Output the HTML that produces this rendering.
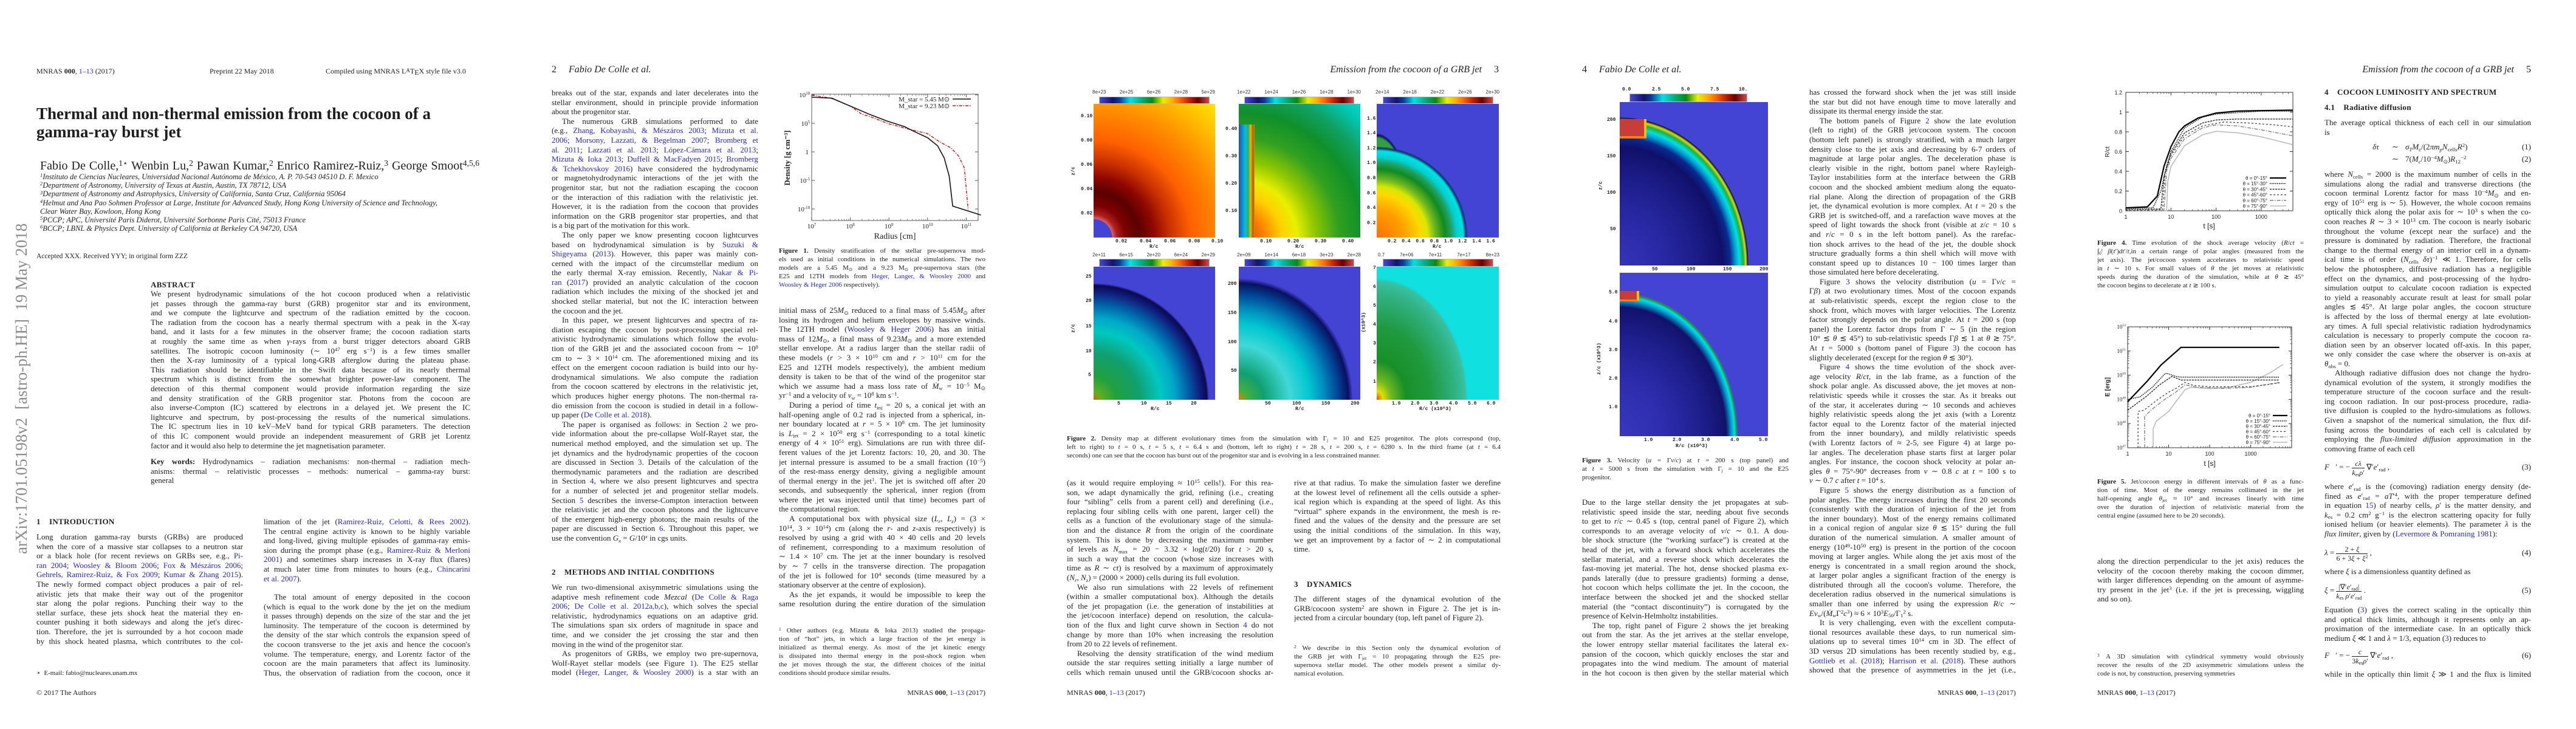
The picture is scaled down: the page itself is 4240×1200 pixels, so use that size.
<!DOCTYPE html>
<html><head><meta charset="utf-8">
<style>
html,body{margin:0;padding:0;background:#fff}
body{width:4240px;height:1200px;position:relative;overflow:hidden;font-family:"Liberation Serif",serif;color:#1e1e1e}
.page{position:absolute;top:0;width:848px;height:1200px;background:#fff;overflow:hidden}
.abs{position:absolute}
.col{position:absolute;width:340px;font-size:13px;line-height:15.6px}
.l{height:15.6px;overflow:hidden;text-align:justify;text-align-last:justify}
.e{text-align-last:left}
.i{text-indent:17px}
.cap{position:absolute;width:340px;font-size:11px;line-height:14px}
.cap .l{height:14px}
.b{color:#2828c8}
sup,sub{font-size:.68em;line-height:0;position:relative;vertical-align:baseline}
sup{top:-.45em}sub{top:.3em}
.hd{position:absolute;font-size:12px;top:110px;white-space:nowrap}
.rh{position:absolute;font-size:16px;font-style:italic;top:106px;white-space:nowrap}
.sec{position:absolute;font-weight:bold;font-size:13px;white-space:nowrap;letter-spacing:.3px}
.foot{position:absolute;font-size:12px;top:1133px;white-space:nowrap}
.panel{position:absolute;background:#4444d4;overflow:hidden}
.cb{position:absolute;border:1px solid #bbb;background:linear-gradient(to right,#4646d6 0%,#14146a 12%,#0a3a9a 18%,#00e2e6 28%,#00b080 38%,#0a8a10 48%,#e8f000 58%,#ffb000 66%,#ff6a00 73%,#c02000 82%,#6a0000 90%,#d04a4a 100%)}
.tk{position:absolute;font-family:"Liberation Mono",monospace;font-weight:bold;font-size:8px;line-height:9px;white-space:nowrap;color:#222}
.ctk{position:absolute;font-family:"Liberation Sans",sans-serif;font-size:8px;line-height:9px;white-space:nowrap;color:#333}
.ov{position:absolute;left:0;top:0}
.eq{position:absolute;font-size:13px;white-space:nowrap;line-height:16px}
.fr{display:inline-block;vertical-align:middle;text-align:center;font-size:12px;line-height:14px}
.fr span{display:block}
.fr .n{border-bottom:1px solid #222;padding:0 2px}
</style></head>
<body>

<!-- ================= PAGE 1 ================= -->
<div class="page" style="left:0">
 <div class="abs" style="left:20px;top:912px;transform-origin:0 0;transform:rotate(-90deg);font-size:27px;line-height:30px;color:#8c8c8c;white-space:nowrap;width:580px">arXiv:1701.05198v2&nbsp; [astro-ph.HE]&nbsp; 19 May 2018</div>
 <div class="hd" style="left:60px">MNRAS <b>000</b>, <span class="b">1–13</span> (2017)</div>
 <div class="hd" style="left:345px">Preprint 22 May 2018</div>
 <div class="hd" style="left:536px">Compiled using MNRAS L<span style="font-size:9px;vertical-align:2px">A</span>T<span style="vertical-align:-2px">E</span>X style file v3.0</div>
 <div class="abs" style="left:60px;top:172px;font-size:27px;line-height:30px;font-weight:bold;white-space:nowrap">Thermal and non-thermal emission from the cocoon of a<br>gamma-ray burst jet</div>
 <div class="abs" style="left:66px;top:262px;font-size:20px;line-height:22px;white-space:nowrap;word-spacing:1px">Fabio De Colle,<sup>1<span class="b">⋆</span></sup> Wenbin Lu,<sup>2</sup> Pawan Kumar,<sup>2</sup> Enrico Ramirez-Ruiz,<sup>3</sup> George Smoot<sup>4,5,6</sup></div>
 <div class="abs" style="left:66px;top:284px;font-size:12.5px;line-height:14.2px;font-style:italic;white-space:nowrap">
  <div><sup>1</sup>Instituto de Ciencias Nucleares, Universidad Nacional Autónoma de México, A. P. 70-543 04510 D. F. Mexico</div>
  <div><sup>2</sup>Department of Astronomy, University of Texas at Austin, Austin, TX 78712, USA</div>
  <div><sup>3</sup>Department of Astronomy and Astrophysics, University of California, Santa Cruz, California 95064</div>
  <div><sup>4</sup>Helmut and Ana Pao Sohmen Professor at Large, Institute for Advanced Study, Hong Kong University of Science and Technology,</div>
  <div>Clear Water Bay, Kowloon, Hong Kong</div>
  <div><sup>5</sup>PCCP; APC, Université Paris Diderot, Université Sorbonne Paris Cité, 75013 France</div>
  <div><sup>6</sup>BCCP; LBNL &amp; Physics Dept. University of California at Berkeley CA 94720, USA</div>
 </div>
 <div class="abs" style="left:60px;top:416px;font-size:11.5px;white-space:nowrap">Accepted XXX. Received YYY; in original form ZZZ</div>
 <div class="sec" style="left:248px;top:461px">ABSTRACT</div>
 <div class="col" style="left:248px;top:476px;width:526px;line-height:15.66px">
  <div class="l">We present hydrodynamic simulations of the hot cocoon produced when a relativistic</div>
  <div class="l">jet passes through the gamma-ray burst (GRB) progenitor star and its environment,</div>
  <div class="l">and we compute the lightcurve and spectrum of the radiation emitted by the cocoon.</div>
  <div class="l">The radiation from the cocoon has a nearly thermal spectrum with a peak in the X-ray</div>
  <div class="l">band, and it lasts for a few minutes in the observer frame; the cocoon radiation starts</div>
  <div class="l">at roughly the same time as when <i>γ</i>-rays from a burst trigger detectors aboard GRB</div>
  <div class="l">satellites. The isotropic cocoon luminosity (∼ 10<sup>47</sup> erg s<sup>−1</sup>) is a few times smaller</div>
  <div class="l">then the X-ray luminosity of a typical long-GRB afterglow during the plateau phase.</div>
  <div class="l">This radiation should be identifiable in the Swift data because of its nearly thermal</div>
  <div class="l">spectrum which is distinct from the somewhat brighter power-law component. The</div>
  <div class="l">detection of this thermal component would provide information regarding the size</div>
  <div class="l">and density stratification of the GRB progenitor star. Photons from the cocoon are</div>
  <div class="l">also inverse-Compton (IC) scattered by electrons in a delayed jet. We present the IC</div>
  <div class="l">lightcurve and spectrum, by post-processing the results of the numerical simulations.</div>
  <div class="l">The IC spectrum lies in 10 keV–MeV band for typical GRB parameters. The detection</div>
  <div class="l">of this IC component would provide an independent measurement of GRB jet Lorentz</div>
  <div class="l e">factor and it would also help to determine the jet magnetisation parameter.</div>
 </div>
 <div class="col" style="left:248px;top:752px;width:526px">
  <div class="l"><b>Key words:</b> Hydrodynamics – radiation mechanisms: non-thermal – radiation mech-</div>
  <div class="l">anisms: thermal – relativistic processes – methods: numerical – gamma-ray burst:</div>
  <div class="l e">general</div>
 </div>
 <div class="sec" style="left:60px;top:851px">1&nbsp;&nbsp;&nbsp; INTRODUCTION</div>
 <div class="col" style="left:60px;top:876px">
  <div class="l">Long duration gamma-ray bursts (GRBs) are produced</div>
  <div class="l">when the core of a massive star collapses to a neutron star</div>
  <div class="l">or a black hole (for recent reviews on GRBs see, e.g., <span class="b">Pi-</span></div>
  <div class="l"><span class="b">ran 2004</span>; <span class="b">Woosley &amp; Bloom 2006</span>; <span class="b">Fox &amp; Mészáros 2006</span>;</div>
  <div class="l"><span class="b">Gehrels, Ramirez-Ruiz, &amp; Fox 2009</span>; <span class="b">Kumar &amp; Zhang 2015</span>).</div>
  <div class="l">The newly formed compact object produces a pair of rel-</div>
  <div class="l">ativistic jets that make their way out of the progenitor</div>
  <div class="l">star along the polar regions. Punching their way to the</div>
  <div class="l">stellar surface, these jets shock heat the material they en-</div>
  <div class="l">counter pushing it both sideways and along the jet's direc-</div>
  <div class="l">tion. Therefore, the jet is surrounded by a hot cocoon made</div>
  <div class="l">by this shock heated plasma, which contributes to the col-</div>
 </div>
 <div class="abs" style="left:60px;top:1101px;font-size:11px;white-space:nowrap">⋆&nbsp; E-mail: fabio@nucleares.unam.mx</div>
 <div class="foot" style="left:60px">© 2017 The Authors</div>
 <div class="col" style="left:434px;top:851px">
  <div class="l">limation of the jet (<span class="b">Ramirez-Ruiz, Celotti, &amp; Rees 2002</span>).</div>
  <div class="l">The central engine activity is known to be highly variable</div>
  <div class="l">and long-lived, giving multiple episodes of gamma-ray emis-</div>
  <div class="l">sion during the prompt phase (e.g., <span class="b">Ramirez-Ruiz &amp; Merloni</span></div>
  <div class="l"><span class="b">2001</span>) and sometimes sharp increases in X-ray flux (flares)</div>
  <div class="l">at much later time from minutes to hours (e.g., <span class="b">Chincarini</span></div>
  <div class="l e"><span class="b">et al. 2007</span>).</div>
 </div>
 <div class="col" style="left:434px;top:975px">
  <div class="l i">The total amount of energy deposited in the cocoon</div>
  <div class="l">(which is equal to the work done by the jet on the medium</div>
  <div class="l">it passes through) depends on the size of the star and the jet</div>
  <div class="l">luminosity. The temperature of the cocoon is determined by</div>
  <div class="l">the density of the star which controls the expansion speed of</div>
  <div class="l">the cocoon transverse to the jet axis and hence the cocoon's</div>
  <div class="l">volume. The temperature, energy, and Lorentz factor of the</div>
  <div class="l">cocoon are the main parameters that affect its luminosity.</div>
  <div class="l">Thus, the observation of radiation from the cocoon, once it</div>
 </div>
</div>

<!-- ================= PAGE 2 ================= -->
<div class="page" style="left:848px">
 <div class="rh" style="left:60px"><span style="font-style:normal">2</span>&nbsp;&nbsp;&nbsp;&nbsp; Fabio De Colle et al.</div>
 <div class="col" style="left:60px;top:145px">
  <div class="l">breaks out of the star, expands and later decelerates into the</div>
  <div class="l">stellar environment, should in principle provide information</div>
  <div class="l e">about the progenitor star.</div>
  <div class="l i">The numerous GRB simulations performed to date</div>
  <div class="l">(e.g., <span class="b">Zhang, Kobayashi, &amp; Mészáros 2003</span>; <span class="b">Mizuta et al.</span></div>
  <div class="l"><span class="b">2006</span>; <span class="b">Morsony, Lazzati, &amp; Begelman 2007</span>; <span class="b">Bromberg et</span></div>
  <div class="l"><span class="b">al. 2011</span>; <span class="b">Lazzati et al. 2013</span>; <span class="b">López-Cámara et al. 2013</span>;</div>
  <div class="l"><span class="b">Mizuta &amp; Ioka 2013</span>; <span class="b">Duffell &amp; MacFadyen 2015</span>; <span class="b">Bromberg</span></div>
  <div class="l"><span class="b">&amp; Tchekhovskoy 2016</span>) have considered the hydrodynamic</div>
  <div class="l">or magnetohydrodynamic interactions of the jet with the</div>
  <div class="l">progenitor star, but not the radiation escaping the cocoon</div>
  <div class="l">or the interaction of this radiation with the relativistic jet.</div>
  <div class="l">However, it is the radiation from the cocoon that provides</div>
  <div class="l">information on the GRB progenitor star properties, and that</div>
  <div class="l e">is a big part of the motivation for this work.</div>
  <div class="l i">The only paper we know presenting cocoon lightcurves</div>
  <div class="l">based on hydrodynamical simulation is by <span class="b">Suzuki &amp;</span></div>
  <div class="l"><span class="b">Shigeyama</span> (<span class="b">2013</span>). However, this paper was mainly con-</div>
  <div class="l">cerned with the impact of the circumstellar medium on</div>
  <div class="l">the early thermal X-ray emission. Recently, <span class="b">Nakar &amp; Pi-</span></div>
  <div class="l"><span class="b">ran</span> (<span class="b">2017</span>) provided an analytic calculation of the cocoon</div>
  <div class="l">radiation which includes the mixing of the shocked jet and</div>
  <div class="l">shocked stellar material, but not the IC interaction between</div>
  <div class="l e">the cocoon and the jet.</div>
  <div class="l i">In this paper, we present lightcurves and spectra of ra-</div>
  <div class="l">diation escaping the cocoon by post-processing special rel-</div>
  <div class="l">ativistic hydrodynamic simulations which follow the evolu-</div>
  <div class="l">tion of the GRB jet and the associated cocoon from ∼ 10<sup>8</sup></div>
  <div class="l">cm to ∼ 3 × 10<sup>14</sup> cm. The aforementioned mixing and its</div>
  <div class="l">effect on the emergent cocoon radiation is build into our hy-</div>
  <div class="l">drodynamical simulations. We also compute the radiation</div>
  <div class="l">from the cocoon scattered by electrons in the relativistic jet,</div>
  <div class="l">which produces higher energy photons. The non-thermal ra-</div>
  <div class="l">dio emission from the cocoon is studied in detail in a follow-</div>
  <div class="l e">up paper (<span class="b">De Colle et al. 2018</span>).</div>
  <div class="l i">The paper is organised as follows: in Section <span class="b">2</span> we pro-</div>
  <div class="l">vide information about the pre-collapse Wolf-Rayet star, the</div>
  <div class="l">numerical method employed, and the simulation set up. The</div>
  <div class="l">jet dynamics and the hydrodynamic properties of the cocoon</div>
  <div class="l">are discussed in Section <span class="b">3</span>. Details of the calculation of the</div>
  <div class="l">thermodynamic parameters and the radiation are described</div>
  <div class="l">in Section <span class="b">4</span>, where we also present lightcurves and spectra</div>
  <div class="l">for a number of selected jet and progenitor stellar models.</div>
  <div class="l">Section <span class="b">5</span> describes the inverse-Compton interaction between</div>
  <div class="l">the relativistic jet and the cocoon photons and the lightcurve</div>
  <div class="l">of the emergent high-energy photons; the main results of the</div>
  <div class="l">paper are discussed in Section <span class="b">6</span>. Throughout this paper, we</div>
  <div class="l e">use the convention <i>G<sub>x</sub></i> = <i>G</i>/10<sup><i>x</i></sup> in cgs units.</div>
 </div>
 <div class="sec" style="left:60px;top:934px">2&nbsp;&nbsp;&nbsp; METHODS AND INITIAL CONDITIONS</div>
 <div class="col" style="left:60px;top:959px">
  <div class="l">We run two-dimensional axisymmetric simulations using the</div>
  <div class="l">adaptive mesh refinement code <i>Mezcal</i> (<span class="b">De Colle &amp; Raga</span></div>
  <div class="l"><span class="b">2006</span>; <span class="b">De Colle et al. 2012a,b,c</span>), which solves the special</div>
  <div class="l">relativistic, hydrodynamics equations on an adaptive grid.</div>
  <div class="l">The simulations span six orders of magnitude in space and</div>
  <div class="l">time, and we consider the jet crossing the star and then</div>
  <div class="l e">moving in the wind of the progenitor star.</div>
  <div class="l i">As progenitors of GRBs, we employ two pre-supernova,</div>
  <div class="l">Wolf-Rayet stellar models (see Figure <span class="b">1</span>). The E25 stellar</div>
  <div class="l">model (<span class="b">Heger, Langer, &amp; Woosley 2000</span>) is a star with an</div>
 </div>
 <svg class="ov" id="fig1" width="848" height="1200"></svg>
 <div class="cap" style="left:434px;top:406px">
  <div class="l"><b>Figure 1.</b> Density stratification of the stellar pre-supernova mod-</div>
  <div class="l">els used as initial conditions in the numerical simulations. The two</div>
  <div class="l">models are a 5.45 M<sub>⊙</sub> and a 9.23 M<sub>⊙</sub> pre-supernova stars (the</div>
  <div class="l">E25 and 12TH models from <span class="b">Heger, Langer, &amp; Woosley 2000</span> and</div>
  <div class="l e"><span class="b">Woosley &amp; Heger 2006</span> respectively).</div>
 </div>
 <div class="col" style="left:434px;top:503px">
  <div class="l">initial mass of 25<i>M</i><sub>⊙</sub> reduced to a final mass of 5.45<i>M</i><sub>⊙</sub> after</div>
  <div class="l">losing its hydrogen and helium envelopes by massive winds.</div>
  <div class="l">The 12TH model (<span class="b">Woosley &amp; Heger 2006</span>) has an initial</div>
  <div class="l">mass of 12<i>M</i><sub>⊙</sub>, a final mass of 9.23<i>M</i><sub>⊙</sub> and a more extended</div>
  <div class="l">stellar envelope. At a radius larger than the stellar radii of</div>
  <div class="l">these models (<i>r</i> &gt; 3 × 10<sup>10</sup> cm and <i>r</i> &gt; 10<sup>11</sup> cm for the</div>
  <div class="l">E25 and 12TH models respectively), the ambient medium</div>
  <div class="l">density is taken to be that of the wind of the progenitor star</div>
  <div class="l">which we assume had a mass loss rate of <i>Ṁ<sub>w</sub></i> = 10<sup>−5</sup> M<sub>⊙</sub></div>
  <div class="l e">yr<sup>−1</sup> and a velocity of <i>v<sub>w</sub></i> = 10<sup>8</sup> km s<sup>−1</sup>.</div>
  <div class="l i">During a period of time <i>t</i><sub>inj</sub> = 20 s, a conical jet with an</div>
  <div class="l">half-opening angle of 0.2 rad is injected from a spherical, in-</div>
  <div class="l">ner boundary located at <i>r</i> = 5 × 10<sup>8</sup> cm. The jet luminosity</div>
  <div class="l">is <i>L</i><sub>jet</sub> = 2 × 10<sup>50</sup> erg s<sup>−1</sup> (corresponding to a total kinetic</div>
  <div class="l">energy of 4 × 10<sup>51</sup> erg). Simulations are run with three dif-</div>
  <div class="l">ferent values of the jet Lorentz factors: 10, 20, and 30. The</div>
  <div class="l">jet internal pressure is assumed to be a small fraction (10<sup>−5</sup>)</div>
  <div class="l">of the rest-mass energy density, giving a negligible amount</div>
  <div class="l">of thermal energy in the jet<sup class="b">1</sup>. The jet is switched off after 20</div>
  <div class="l">seconds, and subsequently the spherical, inner region (from</div>
  <div class="l">where the jet was injected until that time) becomes part of</div>
  <div class="l e">the computational region.</div>
  <div class="l i">A computational box with physical size (<i>L<sub>r</sub></i>, <i>L<sub>z</sub></i>) = (3 ×</div>
  <div class="l">10<sup>14</sup>, 3 × 10<sup>14</sup>) cm (along the <i>r</i>- and <i>z</i>-axis respectively) is</div>
  <div class="l">resolved by using a grid with 40 × 40 cells and 20 levels</div>
  <div class="l">of refinement, corresponding to a maximum resolution of</div>
  <div class="l">∼ 1.4 × 10<sup>7</sup> cm. The jet at the inner boundary is resolved</div>
  <div class="l">by ∼ 7 cells in the transverse direction. The propagation</div>
  <div class="l">of the jet is followed for 10<sup>4</sup> seconds (time measured by a</div>
  <div class="l e">stationary observer at the centre of explosion).</div>
  <div class="l i">As the jet expands, it would be impossible to keep the</div>
  <div class="l">same resolution during the entire duration of the simulation</div>
 </div>
 <div class="cap" style="left:434px;top:1031px">
  <div class="l"><sup>1</sup> Other authors (e.g. Mizuta &amp; Ioka 2013) studied the propaga-</div>
  <div class="l">tion of “hot” jets, in which a large fraction of the jet energy is</div>
  <div class="l">initialized as thermal energy. As most of the jet kinetic energy</div>
  <div class="l">is dissipated into thermal energy in the post-shock region when</div>
  <div class="l">the jet moves through the star, the different choices of the initial</div>
  <div class="l e">conditions should produce similar results.</div>
 </div>
 <div class="foot" style="right:74px">MNRAS <b>000</b>, <span class="b">1–13</span> (2017)</div>
</div>

<!-- ================= PAGE 3 ================= -->
<div class="page" style="left:1696px">
 <div class="rh" style="right:77px">Emission from the cocoon of a GRB jet&nbsp;&nbsp;&nbsp;&nbsp; <span style="font-style:normal">3</span></div>

 <!-- colorbars top -->
 <div class="cb" style="left:113px;top:159px;width:180px;height:10px"></div>
 <div class="cb" style="left:352px;top:159px;width:179px;height:10px"></div>
 <div class="cb" style="left:580px;top:159px;width:180px;height:10px"></div>
 <div class="cb" style="left:113px;top:426px;width:180px;height:11px"></div>
 <div class="cb" style="left:352px;top:426px;width:179px;height:11px"></div>
 <div class="cb" style="left:580px;top:426px;width:180px;height:11px"></div>
 <div class="ctk" style="left:102px;top:147px;width:202px;display:flex;justify-content:space-between">
  <span>8e+23</span><span>2e+25</span><span>6e+26</span><span>2e+28</span><span>5e+29</span></div>
 <div class="ctk" style="left:340px;top:147px;width:204px;display:flex;justify-content:space-between">
  <span>1e+22</span><span>1e+24</span><span>1e+26</span><span>1e+28</span><span>1e+30</span></div>
 <div class="ctk" style="left:568px;top:147px;width:204px;display:flex;justify-content:space-between">
  <span>2e+14</span><span>2e+18</span><span>2e+22</span><span>2e+26</span><span>2e+30</span></div>
 <div class="ctk" style="left:102px;top:415px;width:202px;display:flex;justify-content:space-between">
  <span>2e+11</span><span>6e+15</span><span>2e+20</span><span>6e+24</span><span>2e+29</span></div>
 <div class="ctk" style="left:340px;top:415px;width:204px;display:flex;justify-content:space-between">
  <span>2e+09</span><span>1e+14</span><span>6e+18</span><span>3e+23</span><span>2e+28</span></div>
 <div class="ctk" style="left:572px;top:415px;width:200px;display:flex;justify-content:space-between">
  <span>0.7</span><span>7e+06</span><span>7e+11</span><span>7e+17</span><span>8e+23</span></div>

 <!-- panels top -->
 <div class="panel" style="left:104px;top:171px;width:200px;height:220px;background:radial-gradient(circle at 0% 100%,#4444d4 0,#4444d4 30px,#e06060 31px,#b02020 38px,#800000 52px,#5a0000 75px,#900800 100px,#c83000 125px,#ff6000 160px,#ff8c00 210px,#ffc000 260px,#ffe800 300px,#ffff10 340px)"></div>
 <div class="panel" style="left:343px;top:171px;width:200px;height:220px;background:radial-gradient(circle at 0% 100%,#e03000 0,#ff8000 40px,#ffd000 70px,#e8f000 95px,#90c800 125px,#30a020 165px,#10902a 205px,#10a060 240px,#00c8b0 275px,#00e0e0 310px)">
  <div class="abs" style="left:0;top:34px;width:26px;height:186px;background:linear-gradient(to right,#2050c0,#00c0e0 40%,#30b060 60%,#e0c000 75%,#e04000 90%,#80c000)"></div>
 </div>
 <div class="panel" style="left:570px;top:171px;width:201px;height:220px">
  <div class="abs" style="left:0;top:0;width:201px;height:220px;background:radial-gradient(ellipse 62px 172px at 0% 100%,#30a040 0,#30a040 95%,#101060 98%,transparent 100%)"></div>
  <div class="abs" style="left:0;top:0;width:201px;height:220px;background:radial-gradient(ellipse 150px 150px at 0% 100%,#ff7000 0,#ffa000 30%,#ffd800 48%,#d8e800 56%,#70b820 64%,#108a20 75%,#20a060 82%,#00d0d0 88%,#00e2e2 95%,#103070 98%,transparent 100%)"></div>
 </div>
 <!-- panels bottom -->
 <div class="panel" style="left:104px;top:439px;width:200px;height:219px;background:radial-gradient(ellipse 190px 192px at 0% 100%,#e06000 0,#60b020 6%,#20a040 20%,#10a070 40%,#00c8c0 58%,#00a8c8 70%,#0060a8 82%,#102080 92%,#0a0a50 98%,#4444d4 100%)"></div>
 <div class="panel" style="left:343px;top:439px;width:200px;height:219px;background:radial-gradient(ellipse 188px 200px at 0% 100%,#e08000 0,#40b040 8%,#10a070 22%,#40d8d8 45%,#00c8d0 62%,#0090c0 74%,#004a9a 86%,#0a1060 96%,#4444d4 100%)"></div>
 <div class="panel" style="left:570px;top:439px;width:201px;height:219px;background:#10e0e0">
  <div class="abs" style="left:0;top:0;width:201px;height:219px;background:radial-gradient(ellipse 150px 200px at 0% 100%,#e05000 0,#e0e000 7%,#70b820 16%,#189028 32%,#209a40 60%,#30b080 85%,#38c0a0 97%,transparent 100%)"></div>
 </div>

 <!-- tick labels -->
 <div class="tk" style="left:140px;top:393px">0.02</div><div class="tk" style="left:180px;top:393px">0.04</div><div class="tk" style="left:220px;top:393px">0.06</div><div class="tk" style="left:260px;top:393px">0.08</div><div class="tk" style="left:298px;top:393px">0.10</div>
 <div class="tk" style="left:196px;top:402px">R/c</div>
 <div class="tk" style="left:83px;top:187px">0.10</div><div class="tk" style="left:83px;top:227px">0.08</div><div class="tk" style="left:83px;top:267px">0.06</div><div class="tk" style="left:83px;top:307px">0.04</div><div class="tk" style="left:83px;top:347px">0.02</div>
 <div class="tk" style="left:64px;top:277px;transform:rotate(-90deg)">z/c</div>
 <div class="tk" style="left:378px;top:393px">0.10</div><div class="tk" style="left:423px;top:393px">0.20</div><div class="tk" style="left:468px;top:393px">0.30</div><div class="tk" style="left:513px;top:393px">0.40</div>
 <div class="tk" style="left:436px;top:402px">R/c</div>
 <div class="tk" style="left:321px;top:208px">0.40</div><div class="tk" style="left:321px;top:253px">0.30</div><div class="tk" style="left:321px;top:298px">0.20</div><div class="tk" style="left:321px;top:343px">0.10</div>
 <div class="tk" style="left:588px;top:393px;word-spacing:4px">0.2 0.4 0.6 0.8 1.0 1.2 1.4 1.6</div>
 <div class="tk" style="left:662px;top:402px">R/c</div>
 <div class="tk" style="left:554px;top:363px">0.2</div><div class="tk" style="left:554px;top:338px">0.4</div><div class="tk" style="left:554px;top:314px">0.6</div><div class="tk" style="left:554px;top:289px">0.8</div><div class="tk" style="left:554px;top:264px">1.0</div><div class="tk" style="left:554px;top:240px">1.2</div><div class="tk" style="left:554px;top:215px">1.4</div><div class="tk" style="left:554px;top:191px">1.6</div>
 <div class="tk" style="left:143px;top:660px">5</div><div class="tk" style="left:182px;top:660px">10</div><div class="tk" style="left:223px;top:660px">15</div><div class="tk" style="left:264px;top:660px">20</div>
 <div class="tk" style="left:198px;top:669px">R/c</div>
 <div class="tk" style="left:91px;top:451px">25</div><div class="tk" style="left:91px;top:491px">20</div><div class="tk" style="left:91px;top:533px">15</div><div class="tk" style="left:91px;top:574px">10</div><div class="tk" style="left:95px;top:613px">5</div>
 <div class="tk" style="left:64px;top:536px;transform:rotate(-90deg)">z/c</div>
 <div class="tk" style="left:386px;top:660px">50</div><div class="tk" style="left:431px;top:660px">100</div><div class="tk" style="left:479px;top:660px">150</div><div class="tk" style="left:527px;top:660px">200</div>
 <div class="tk" style="left:436px;top:669px">R/c</div>
 <div class="tk" style="left:325px;top:463px">200</div><div class="tk" style="left:325px;top:511px">150</div><div class="tk" style="left:325px;top:559px">100</div><div class="tk" style="left:330px;top:606px">50</div>
 <div class="tk" style="left:595px;top:660px">1.0</div><div class="tk" style="left:626px;top:660px">2.0</div><div class="tk" style="left:657px;top:660px">3.0</div><div class="tk" style="left:689px;top:660px">4.0</div><div class="tk" style="left:720px;top:660px">5.0</div><div class="tk" style="left:751px;top:660px">6.0</div>
 <div class="tk" style="left:640px;top:669px">R/c (x10^3)</div>
 <div class="tk" style="left:564px;top:437px">7</div><div class="tk" style="left:564px;top:468px">6</div><div class="tk" style="left:564px;top:499px">5</div><div class="tk" style="left:564px;top:530px">4</div><div class="tk" style="left:564px;top:561px">3</div><div class="tk" style="left:564px;top:592px">2</div><div class="tk" style="left:564px;top:624px">1</div>
 <div class="tk" style="left:532px;top:526px;transform:rotate(-90deg)">(x10^3)</div>

 <div class="cap" style="left:60px;top:715px;width:714px">
  <div class="l"><b>Figure 2.</b> Density map at different evolutionary times from the simulation with Γ<sub>j</sub> = 10 and E25 progenitor. The plots correspond (top,</div>
  <div class="l">left to right) to <i>t</i> = 0 s, <i>t</i> = 5 s, <i>t</i> = 6.4 s and (bottom, left to right) <i>t</i> = 28 s, <i>t</i> = 200 s, <i>t</i> = 6280 s. In the third frame (at <i>t</i> = 6.4</div>
  <div class="l e">seconds) one can see that the cocoon has burst out of the progenitor star and is evolving in a less constrained manner.</div>
 </div>
 <div class="col" style="left:60px;top:787px">
  <div class="l">(as it would require employing ≈ 10<sup>15</sup> cells!). For this rea-</div>
  <div class="l">son, we adapt dynamically the grid, refining (i.e., creating</div>
  <div class="l">four “sibling” cells from a parent cell) and derefining (i.e.,</div>
  <div class="l">replacing four sibling cells with one parent, larger cell) the</div>
  <div class="l">cells as a function of the evolutionary stage of the simula-</div>
  <div class="l">tion and the distance <i>R</i> from the origin of the coordinate</div>
  <div class="l">system. This is done by decreasing the maximum number</div>
  <div class="l">of levels as <i>N</i><sub>max</sub> = 20 − 3.32 × log(<i>t</i>/20) for <i>t</i> &gt; 20 s,</div>
  <div class="l">in such a way that the cocoon (whose size increases with</div>
  <div class="l">time as <i>R</i> ∼ <i>ct</i>) is resolved by a maximum of approximately</div>
  <div class="l e">(<i>N<sub>r</sub></i>, <i>N<sub>z</sub></i>) = (2000 × 2000) cells during its full evolution.</div>
  <div class="l i">We also run simulations with 22 levels of refinement</div>
  <div class="l">(within a smaller computational box). Although the details</div>
  <div class="l">of the jet propagation (i.e. the generation of instabilities at</div>
  <div class="l">the jet/cocoon interface) depend on resolution, the calcula-</div>
  <div class="l">tion of the flux and light curve shown in Section <span class="b">4</span> do not</div>
  <div class="l">change by more than 10% when increasing the resolution</div>
  <div class="l e">from 20 to 22 levels of refinement.</div>
  <div class="l i">Resolving the density stratification of the wind medium</div>
  <div class="l">outside the star requires setting initially a large number of</div>
  <div class="l">cells which remain unused until the GRB/cocoon shocks ar-</div>
 </div>
 <div class="col" style="left:434px;top:787px">
  <div class="l">rive at that radius. To make the simulation faster we derefine</div>
  <div class="l">at the lowest level of refinement all the cells outside a spher-</div>
  <div class="l">ical region which is expanding at the speed of light. As this</div>
  <div class="l">“virtual” sphere expands in the environment, the mesh is re-</div>
  <div class="l">fined and the values of the density and the pressure are set</div>
  <div class="l">using the initial conditions of the simulation. In this way,</div>
  <div class="l">we get an improvement by a factor of ∼ 2 in computational</div>
  <div class="l e">time.</div>
 </div>
 <div class="sec" style="left:434px;top:954px">3&nbsp;&nbsp;&nbsp; DYNAMICS</div>
 <div class="col" style="left:434px;top:978px">
  <div class="l">The different stages of the dynamical evolution of the</div>
  <div class="l">GRB/cocoon system<sup>2</sup> are shown in Figure <span class="b">2</span>. The jet is in-</div>
  <div class="l e">jected from a circular boundary (top, left panel of Figure <span class="b">2</span>).</div>
 </div>
 <div class="cap" style="left:434px;top:1060px;line-height:14.4px">
  <div class="l"><sup>2</sup> We describe in this Section only the dynamical evolution of</div>
  <div class="l">the GRB jet with Γ<sub>jet</sub> = 10 propagating through the E25 pre-</div>
  <div class="l">supernova stellar model. The other models present a similar dy-</div>
  <div class="l e">namical evolution.</div>
 </div>
 <div class="foot" style="left:60px">MNRAS <b>000</b>, <span class="b">1–13</span> (2017)</div>
</div>

<!-- ================= PAGE 4 ================= -->
<div class="page" style="left:2544px">
 <div class="rh" style="left:60px"><span style="font-style:normal">4</span>&nbsp;&nbsp;&nbsp;&nbsp; Fabio De Colle et al.</div>
 <div class="cb" style="left:138px;top:154px;width:192px;height:12px"></div>
 <div class="tk" style="left:126px;top:143px">0.0</div><div class="tk" style="left:175px;top:143px">2.5</div><div class="tk" style="left:223px;top:143px">5.0</div><div class="tk" style="left:271px;top:143px">7.5</div><div class="tk" style="left:318px;top:143px">10.</div>
 <div class="panel" style="left:122px;top:168px;width:244px;height:269px;background:radial-gradient(ellipse 212px 244px at 0% 100%,#3434b8 0,#2a2aa8 30%,#1c1c88 60%,#10106a 80%,#0a2a90 86%,#00a0d0 90%,#00e0e0 93%,#20b040 96%,#d8e000 98%,#0a0a40 99.5%,#4444d4 100%)">
  <div class="abs" style="left:0;top:28px;width:40px;height:28px;background:#c83c3c;border-right:4px solid #f0c000;border-bottom:4px solid #ff8000"></div>
 </div>
 <div class="panel" style="left:122px;top:449px;width:244px;height:269px;background:radial-gradient(ellipse 195px 236px at 0% 100%,#3838c0 0,#2c2cac 40%,#1e1e8c 70%,#12126c 90%,#00b0d8 95%,#00e0e0 97%,#20a040 98.5%,#4444d4 100%)">
  <div class="abs" style="left:0;top:30px;width:28px;height:14px;background:#c83c3c;border-right:4px solid #f0c000;border-bottom:3px solid #ff8000"></div>
 </div>
 <div class="tk" style="left:101px;top:193px">200</div><div class="tk" style="left:101px;top:253px">150</div><div class="tk" style="left:101px;top:313px">100</div><div class="tk" style="left:106px;top:373px">50</div>
 <div class="tk" style="left:84px;top:301px;transform:rotate(-90deg)">z/c</div>
 <div class="tk" style="left:175px;top:439px">50</div><div class="tk" style="left:232px;top:439px">100</div><div class="tk" style="left:292px;top:439px">150</div><div class="tk" style="left:352px;top:439px">200</div>
 <div class="tk" style="left:104px;top:477px">5.0</div><div class="tk" style="left:104px;top:525px">4.0</div><div class="tk" style="left:104px;top:572px">3.0</div><div class="tk" style="left:104px;top:619px">2.0</div><div class="tk" style="left:104px;top:666px">1.0</div>
 <div class="tk" style="left:62px;top:586px;transform:rotate(-90deg)">z/c (x10^3)</div>
 <div class="tk" style="left:162px;top:720px">1.0</div><div class="tk" style="left:209px;top:720px">2.0</div><div class="tk" style="left:256px;top:720px">3.0</div><div class="tk" style="left:304px;top:720px">4.0</div><div class="tk" style="left:351px;top:720px">5.0</div>
 <div class="tk" style="left:214px;top:730px">R/c (x10^3)</div>
 <div class="cap" style="left:60px;top:751px;line-height:14.5px">
  <div class="l"><b>Figure 3.</b> Velocity (<i>u</i> = Γ<i>v</i>/<i>c</i>) at <i>t</i> = 200 s (top panel) and</div>
  <div class="l">at <i>t</i> = 5000 s from the simulation with Γ<sub>j</sub> = 10 and the E25</div>
  <div class="l e">progenitor.</div>
 </div>
 <div class="col" style="left:60px;top:819px">
  <div class="l">Due to the large stellar density the jet propagates at sub-</div>
  <div class="l">relativistic speed inside the star, needing about five seconds</div>
  <div class="l">to get to <i>r</i>/<i>c</i> ∼ 0.45 s (top, central panel of Figure <span class="b">2</span>), which</div>
  <div class="l">corresponds to an average velocity of <i>v</i>/<i>c</i> ∼ 0.1. A dou-</div>
  <div class="l">ble shock structure (the “working surface”) is created at the</div>
  <div class="l">head of the jet, with a forward shock which accelerates the</div>
  <div class="l">stellar material, and a reverse shock which decelerates the</div>
  <div class="l">fast-moving jet material. The hot, dense shocked plasma ex-</div>
  <div class="l">pands laterally (due to pressure gradients) forming a dense,</div>
  <div class="l">hot cocoon which helps collimate the jet. In the cocoon, the</div>
  <div class="l">interface between the shocked jet and the shocked stellar</div>
  <div class="l">material (the “contact discontinuity”) is corrugated by the</div>
  <div class="l e">presence of Kelvin-Helmholtz instabilities.</div>
  <div class="l i">The top, right panel of Figure <span class="b">2</span> shows the jet breaking</div>
  <div class="l">out from the star. As the jet arrives at the stellar envelope,</div>
  <div class="l">the lower entropy stellar material facilitates the lateral ex-</div>
  <div class="l">pansion of the cocoon, which quickly encloses the star and</div>
  <div class="l">propagates into the wind medium. The amount of material</div>
  <div class="l">in the hot cocoon is then given by the stellar material which</div>
 </div>
 <div class="col" style="left:434px;top:144px">
  <div class="l">has crossed the forward shock when the jet was still inside</div>
  <div class="l">the star but did not have enough time to move laterally and</div>
  <div class="l e">dissipate its thermal energy inside the star.</div>
  <div class="l i">The bottom panels of Figure <span class="b">2</span> show the late evolution</div>
  <div class="l">(left to right) of the GRB jet/cocoon system. The cocoon</div>
  <div class="l">(bottom left panel) is strongly stratified, with a much larger</div>
  <div class="l">density close to the jet axis and decreasing by 6-7 orders of</div>
  <div class="l">magnitude at large polar angles. The deceleration phase is</div>
  <div class="l">clearly visible in the right, bottom panel where Rayleigh-</div>
  <div class="l">Taylor instabilities form at the interface between the GRB</div>
  <div class="l">cocoon and the shocked ambient medium along the equato-</div>
  <div class="l">rial plane. Along the direction of propagation of the GRB</div>
  <div class="l">jet, the dynamical evolution is more complex. At <i>t</i> = 20 s the</div>
  <div class="l">GRB jet is switched-off, and a rarefaction wave moves at the</div>
  <div class="l">speed of light towards the shock front (visible at <i>z</i>/<i>c</i> = 10 s</div>
  <div class="l">and <i>r</i>/<i>c</i> = 0 s in the left bottom panel). As the rarefac-</div>
  <div class="l">tion shock arrives to the head of the jet, the double shock</div>
  <div class="l">structure gradually forms a thin shell which will move with</div>
  <div class="l">constant speed up to distances 10 − 100 times larger than</div>
  <div class="l e">those simulated here before decelerating.</div>
  <div class="l i">Figure <span class="b">3</span> shows the velocity distribution (<i>u</i> = Γ<i>v</i>/<i>c</i> =</div>
  <div class="l">Γ<i>β</i>) at two evolutionary times. Most of the cocoon expands</div>
  <div class="l">at sub-relativistic speeds, except the region close to the</div>
  <div class="l">shock front, which moves with larger velocities. The Lorentz</div>
  <div class="l">factor strongly depends on the polar angle. At <i>t</i> = 200 s (top</div>
  <div class="l">panel) the Lorentz factor drops from Γ ∼ 5 (in the region</div>
  <div class="l">10° ≲ <i>θ</i> ≲ 45°) to sub-relativistic speeds Γ<i>β</i> ≲ 1 at <i>θ</i> ≳ 75°.</div>
  <div class="l">At <i>t</i> = 5000 s (bottom panel of Figure <span class="b">3</span>) the cocoon has</div>
  <div class="l e">slightly decelerated (except for the region <i>θ</i> ≲ 30°).</div>
  <div class="l i">Figure <span class="b">4</span> shows the time evolution of the shock aver-</div>
  <div class="l">age velocity <i>R</i>/<i>ct</i>, in the lab frame, as a function of the</div>
  <div class="l">shock polar angle. As discussed above, the jet moves at non-</div>
  <div class="l">relativistic speeds while it crosses the star. As it breaks out</div>
  <div class="l">of the star, it accelerates during ∼ 10 seconds and achieves</div>
  <div class="l">highly relativistic speeds along the jet axis (with a Lorentz</div>
  <div class="l">factor equal to the Lorentz factor of the material injected</div>
  <div class="l">from the inner boundary), and mildly relativistic speeds</div>
  <div class="l">(with Lorentz factors of ≈ 2-5, see Figure <span class="b">4</span>) at large po-</div>
  <div class="l">lar angles. The deceleration phase starts first at larger polar</div>
  <div class="l">angles. For instance, the cocoon shock velocity at polar an-</div>
  <div class="l">gles <i>θ</i> = 75°-90° decreases from <i>v</i> ∼ 0.8 <i>c</i> at <i>t</i> = 100 s to</div>
  <div class="l e"><i>v</i> ∼ 0.7 <i>c</i> after <i>t</i> = 10<sup>4</sup> s.</div>
  <div class="l i">Figure <span class="b">5</span> shows the energy distribution as a function of</div>
  <div class="l">polar angles. The energy increases during the first 20 seconds</div>
  <div class="l">(consistently with the duration of injection of the jet from</div>
  <div class="l">the inner boundary). Most of the energy remains collimated</div>
  <div class="l">in a conical region of angular size <i>θ</i> ≲ 15° during the full</div>
  <div class="l">duration of the numerical simulation. A smaller amount of</div>
  <div class="l">energy (10<sup>49</sup>-10<sup>50</sup> erg) is present in the portion of the cocoon</div>
  <div class="l">moving at larger angles. While along the jet axis most of the</div>
  <div class="l">energy is concentrated in a small region around the shock,</div>
  <div class="l">at larger polar angles a significant fraction of the energy is</div>
  <div class="l">distributed through all the cocoon's volume. Therefore, the</div>
  <div class="l">deceleration radius observed in the numerical simulations is</div>
  <div class="l">smaller than one inferred by using the expression <i>R</i>/<i>c</i> ∼</div>
  <div class="l e"><i>Ev<sub>w</sub></i>/(<i>Ṁ<sub>w</sub></i>Γ<sup>2</sup><i>c</i><sup>3</sup>) ≈ 6 × 10<sup>3</sup><i>E</i><sub>50</sub>/Γ<sub>1</sub><sup>2</sup> s.</div>
  <div class="l i">It is very challenging, even with the excellent computa-</div>
  <div class="l">tional resources available these days, to run numerical sim-</div>
  <div class="l">ulations up to several times 10<sup>14</sup> cm in 3D. The effect of</div>
  <div class="l">3D versus 2D simulations has been recently studied by, e.g.,</div>
  <div class="l"><span class="b">Gottlieb et al.</span> (<span class="b">2018</span>); <span class="b">Harrison et al.</span> (<span class="b">2018</span>). These authors</div>
  <div class="l">showed that the presence of asymmetries in the jet (i.e.,</div>
 </div>
 <div class="foot" style="right:74px">MNRAS <b>000</b>, <span class="b">1–13</span> (2017)</div>
</div>

<!-- ================= PAGE 5 ================= -->
<div class="page" style="left:3392px">
 <div class="rh" style="right:74px">Emission from the cocoon of a GRB jet&nbsp;&nbsp;&nbsp;&nbsp; <span style="font-style:normal">5</span></div>
 <svg class="ov" id="fig45" width="848" height="1200"></svg>
 <div class="cap" style="left:60px;top:393px;line-height:14.2px">
  <div class="l"><b>Figure 4.</b> Time evolution of the shock average velocity (<i>R</i>/<i>ct</i> =</div>
  <div class="l">∫<sub>0</sub><sup>t</sup> <i>β</i>(<i>t</i>′)<i>dt</i>′/<i>t</i>,in a certain range of polar angles (measured from the</div>
  <div class="l">jet axis). The jet/cocoon system accelerates to relativistic speed</div>
  <div class="l">in <i>t</i> ∼ 10 s. For small values of <i>θ</i> the jet moves at relativistic</div>
  <div class="l">speeds during the duration of the simulation, while at <i>θ</i> ≳ 45°</div>
  <div class="l e">the cocoon begins to decelerate at <i>t</i> ≳ 100 s.</div>
 </div>
 <div class="cap" style="left:60px;top:786px">
  <div class="l"><b>Figure 5.</b> Jet/cocoon energy in different intervals of <i>θ</i> as a func-</div>
  <div class="l">tion of time. Most of the energy remains collimated in the jet</div>
  <div class="l">half-opening angle <i>θ</i><sub>jet</sub> ≈ 10° and increases linearly with time</div>
  <div class="l">over the duration of injection of relativistic material from the</div>
  <div class="l e">central engine (assumed here to be 20 seconds).</div>
 </div>
 <div class="col" style="left:60px;top:916px">
  <div class="l">along the direction perpendicular to the jet axis) reduces the</div>
  <div class="l">velocity of the cocoon thereby making the cocoon dimmer,</div>
  <div class="l">with larger differences depending on the amount of asymme-</div>
  <div class="l">try present in the jet<sup class="b">3</sup> (i.e. if the jet is precessing, wiggling</div>
  <div class="l e">and so on).</div>
 </div>
 <div class="cap" style="left:60px;top:1074px;line-height:14.5px">
  <div class="l"><sup>3</sup> A 3D simulation with cylindrical symmetry would obviously</div>
  <div class="l">recover the results of the 2D axisymmetric simulations unless the</div>
  <div class="l e">code is not, by construction, preserving symmetries</div>
 </div>
 <div class="foot" style="left:60px">MNRAS <b>000</b>, <span class="b">1–13</span> (2017)</div>

 <div class="sec" style="left:434px;top:144px">4&nbsp;&nbsp;&nbsp; COCOON LUMINOSITY AND SPECTRUM</div>
 <div class="sec" style="left:434px;top:169px">4.1&nbsp;&nbsp;&nbsp; Radiative diffusion</div>
 <div class="col" style="left:434px;top:194px">
  <div class="l">The average optical thickness of each cell in our simulation</div>
  <div class="l e">is</div>
 </div>
 <div class="eq" style="left:513px;top:234px"><i>δτ</i></div>
 <div class="eq" style="left:545px;top:234px">∼</div>
 <div class="eq" style="left:567px;top:234px"><i>σ<sub>T</sub>M<sub>c</sub></i>/(2<i>πm<sub>p</sub>N</i><sub>cells</sub><i>R</i><sup>2</sup>)</div>
 <div class="eq" style="right:74px;top:234px">(1)</div>
 <div class="eq" style="left:545px;top:254px">∼</div>
 <div class="eq" style="left:567px;top:254px">7(<i>M<sub>c</sub></i>/10<sup>−4</sup><i>M</i><sub>⊙</sub>)<i>R</i><sub>12</sub><sup>−2</sup></div>
 <div class="eq" style="right:74px;top:254px">(2)</div>
 <div class="col" style="left:434px;top:279px">
  <div class="l">where <i>N</i><sub>cells</sub> = 2000 is the maximum number of cells in the</div>
  <div class="l">simulations along the radial and transverse directions (the</div>
  <div class="l">cocoon terminal Lorentz factor for mass 10<sup>−4</sup><i>M</i><sub>⊙</sub> and en-</div>
  <div class="l">ergy of 10<sup>51</sup> erg is ∼ 5). However, the whole cocoon remains</div>
  <div class="l">optically thick along the polar axis for ∼ 10<sup>3</sup> s when the co-</div>
  <div class="l">coon reaches <i>R</i> ∼ 3 × 10<sup>13</sup> cm. The cocoon is nearly isobaric</div>
  <div class="l">throughout the volume (except near the surface) and the</div>
  <div class="l">pressure is dominated by radiation. Therefore, the fractional</div>
  <div class="l">change to the thermal energy of an interior cell in a dynam-</div>
  <div class="l">ical time is of order (<i>N</i><sub>cells</sub> <i>δτ</i>)<sup>−1</sup> ≪ 1. Therefore, for cells</div>
  <div class="l">below the photosphere, diffusive radiation has a negligible</div>
  <div class="l">effect on the dynamics, and post-processing of the hydro-</div>
  <div class="l">simulation output to calculate cocoon radiation is expected</div>
  <div class="l">to yield a reasonably accurate result at least for small polar</div>
  <div class="l">angles ≲ 45°. At large polar angles, the cocoon structure</div>
  <div class="l">is affected by the loss of thermal energy at late evolution-</div>
  <div class="l">ary times. A full special relativistic radiation hydrodynamics</div>
  <div class="l">calculation is necessary to properly compute the cocoon ra-</div>
  <div class="l">diation seen by an observer located off-axis. In this paper,</div>
  <div class="l">we only consider the case where the observer is on-axis at</div>
  <div class="l e"><i>θ</i><sub>obs</sub> = 0.</div>
 </div>
 <div class="col" style="left:434px;top:606px">
  <div class="l i">Although radiative diffusion does not change the hydro-</div>
  <div class="l">dynamical evolution of the system, it strongly modifies the</div>
  <div class="l">temperature structure of the cocoon surface and the result-</div>
  <div class="l">ing cocoon radiation. In our post-process procedure, radia-</div>
  <div class="l">tive diffusion is coupled to the hydro-simulations as follows.</div>
  <div class="l">Given a snapshot of the numerical simulation, the flux dif-</div>
  <div class="l">fusing across the boundaries of each cell is calculated by</div>
  <div class="l">employing the <i>flux-limited diffusion</i> approximation in the</div>
  <div class="l e">comoving frame of each cell</div>
 </div>
 <div class="eq" style="left:434px;top:755px;line-height:28px"><i>F⃗</i>′ = − <span class="fr"><span class="n"><i>cλ</i></span><span><i>k</i><sub>es</sub><i>ρ</i>′</span></span> ∇′<i>e</i>′<sub>rad</sub> ,</div>
 <div class="eq" style="right:74px;top:761px">(3)</div>
 <div class="col" style="left:434px;top:793px">
  <div class="l">where <i>e</i>′<sub>rad</sub> is the (comoving) radiation energy density (de-</div>
  <div class="l">fined as <i>e</i>′<sub>rad</sub> = <i>aT</i>′<sup>4</sup>, with the proper temperature defined</div>
  <div class="l">in equation <span class="b">15</span>) of nearby cells, <i>ρ</i>′ is the matter density, and</div>
  <div class="l"><i>k</i><sub>es</sub> = 0.2 cm<sup>2</sup> g<sup>−1</sup> is the electron scattering opacity for fully</div>
  <div class="l">ionised helium (or heavier elements). The parameter <i>λ</i> is the</div>
  <div class="l e"><i>flux limiter</i>, given by (<span class="b">Levermore &amp; Pomraning 1981</span>):</div>
 </div>
 <div class="eq" style="left:434px;top:896px;line-height:28px"><i>λ</i> = <span class="fr"><span class="n">2 + <i>ξ</i></span><span>6 + 3<i>ξ</i> + <i>ξ</i><sup>2</sup></span></span> ,</div>
 <div class="eq" style="right:74px;top:902px">(4)</div>
 <div class="col" style="left:434px;top:933px">
  <div class="l e">where <i>ξ</i> is a dimensionless quantity defined as</div>
 </div>
 <div class="eq" style="left:434px;top:958px;line-height:28px"><i>ξ</i> = <span class="fr"><span class="n">|∇′<i>e</i>′<sub>rad</sub>|</span><span><i>k</i><sub>es</sub> <i>ρ</i>′<i>e</i>′<sub>rad</sub></span></span> .</div>
 <div class="eq" style="right:74px;top:964px">(5)</div>
 <div class="col" style="left:434px;top:996px">
  <div class="l">Equation (<span class="b">3</span>) gives the correct scaling in the optically thin</div>
  <div class="l">and optical thick limits, although it represents only an ap-</div>
  <div class="l">proximation of the intermediate case. In an optically thick</div>
  <div class="l e">medium <i>ξ</i> ≪ 1 and <i>λ</i> = 1/3, equation (<span class="b">3</span>) reduces to</div>
 </div>
 <div class="eq" style="left:434px;top:1065px;line-height:28px"><i>F⃗</i>′ = − <span class="fr"><span class="n"><i>c</i></span><span>3<i>k</i><sub>es</sub><i>ρ</i>′</span></span> ∇′<i>e</i>′<sub>rad</sub> ,</div>
 <div class="eq" style="right:74px;top:1071px">(6)</div>
 <div class="col" style="left:434px;top:1102px">
  <div class="l">while in the optically thin limit <i>ξ</i> ≫ 1 and the flux is limited</div>
 </div>
</div>

<script>
// ---------- Figure 1 data: log10 radius [cm] vs log10 density [g cm^-3] ----------
const fig1LogR_E25 = [7.0, 7.52, 7.95, 8.5, 8.95, 9.4, 9.66, 10.0, 10.26, 10.43, 10.56, 10.65, 11.38];
const fig1LogRho_E25 = [9.57, 9.4, 8.16, 6.56, 5.39, 4.43, 3.54, 2.48, 1.06, -1.06, -4.26, -9.5, -11.06];
const fig1LogR_12TH = [7.0, 7.5, 8.0, 8.3, 8.5, 9.0, 9.5, 10.0, 10.3, 10.6, 10.8, 10.95, 11.05];
const fig1LogRho_12TH = [9.92, 9.4, 8.0, 6.6, 6.2, 4.9, 4.0, 3.2, 1.8, 0.7, -0.7, -2.8, -10.2];
const fig1XTickExp = [7, 8, 9, 10, 11];
const fig1YTickExp = [10, 5, 0, -5, -10];

// ---------- Figure 4 data: t [s] vs R/ct ----------
const fig4T_0_15 = [1, 3, 5, 7, 10, 15, 20, 40, 100, 300, 1000, 5000];
const fig4V_0_15 = [0.03, 0.04, 0.15, 0.45, 0.65, 0.8, 0.86, 0.94, 0.99, 1.01, 1.015, 1.02];
const fig4T_15_30 = [1, 4, 6, 8, 10, 20, 50, 100, 1000, 5000];
const fig4V_15_30 = [0.02, 0.03, 0.2, 0.45, 0.6, 0.84, 0.95, 0.98, 1.01, 1.01];
const fig4T_30_45 = [1, 6, 7, 10, 20, 50, 100, 300, 1000, 5000];
const fig4V_30_45 = [0.01, 0.02, 0.35, 0.58, 0.79, 0.89, 0.92, 0.93, 0.93, 0.93];
const fig4T_45_60 = [1, 6.5, 7.5, 10, 20, 50, 150, 500, 2000, 5000];
const fig4V_45_60 = [0.0, 0.01, 0.4, 0.56, 0.76, 0.86, 0.9, 0.89, 0.87, 0.85];
const fig4T_60_75 = [1, 7, 8, 10, 20, 50, 100, 300, 1000, 5000];
const fig4V_60_75 = [0.0, 0.0, 0.4, 0.53, 0.73, 0.84, 0.87, 0.86, 0.82, 0.76];
const fig4T_75_90 = [1, 8, 8.5, 10, 20, 50, 100, 300, 1000, 5000];
const fig4V_75_90 = [0.0, 0.0, 0.3, 0.45, 0.66, 0.77, 0.805, 0.79, 0.75, 0.67];
const fig4YTicks = [0, 0.2, 0.4, 0.6, 0.8, 1, 1.2];
const fig4XTicks = [1, 10, 100, 1000];

// ---------- Figure 5 data: t [s] vs log10 E [erg] ----------
const fig5T_0_15 = [1, 3, 6.5, 20, 5000];
const fig5E_0_15 = [48.9, 49.75, 50.42, 51.15, 51.15];
const fig5T_15_30 = [1, 2, 4, 8, 9, 15, 20, 5000];
const fig5E_15_30 = [49.0, 49.1, 49.5, 50.05, 50.08, 49.95, 49.92, 49.92];
const fig5T_30_45 = [1, 3, 6, 12, 20, 5000];
const fig5E_30_45 = [48.55, 49.15, 49.6, 49.95, 49.8, 49.8];
const fig5T_45_60 = [1.8, 1.8, 2.5, 5, 10, 15, 25, 40, 100, 1000, 5000];
const fig5E_45_60 = [47.0, 48.5, 48.55, 48.95, 49.3, 49.45, 49.7, 49.58, 49.52, 49.52, 49.68];
const fig5T_60_75 = [2.6, 2.6, 4, 8, 15, 25, 50, 200, 1000, 5000];
const fig5E_60_75 = [47.0, 48.3, 48.6, 49.0, 49.3, 49.6, 49.5, 49.45, 49.5, 49.7];
const fig5T_75_90 = [4.2, 4.2, 5, 10, 15, 25, 35, 100, 300, 1000, 3000, 6200];
const fig5E_75_90 = [47.0, 47.8, 48.1, 48.5, 48.9, 49.4, 49.5, 49.45, 49.5, 49.7, 50.1, 50.45];
const fig5YTickExp = [47, 48, 49, 50, 51, 52];
const fig5XTicks = [1, 10, 100, 1000];
const legendLabels = ['θ =  0°-15°', 'θ = 15°-30°', 'θ = 30°-45°', 'θ = 45°-60°', 'θ = 60°-75°', 'θ = 75°-90°'];

const NS = 'http://www.w3.org/2000/svg';
function mk(tag, parent, attrs) {
  const e = document.createElementNS(NS, tag);
  for (const k in attrs) e.setAttribute(k, attrs[k]);
  parent.appendChild(e);
  return e;
}
function pathD(xs, ys, fx, fy) {
  return xs.map((x, i) => (i ? 'L' : 'M') + fx(x).toFixed(1) + ' ' + fy(ys[i]).toFixed(1)).join(' ');
}
function powLabel(parent, x, y, exp, anchor, size) {
  const t = mk('text', parent, {x: x, y: y, 'text-anchor': anchor, 'font-size': size, 'font-family': 'Liberation Serif, serif', fill: '#222'});
  t.textContent = '10';
  const s = mk('tspan', t, {dy: -4, 'font-size': size * 0.62});
  s.textContent = String(exp);
  return t;
}

// ===== Figure 1 =====
(function () {
  const svg = document.getElementById('fig1');
  const X0 = 488, X1 = 762, Y0 = 155, Y1 = 363;
  const fx = v => X0 + (v - 7) * 63.6;
  const fy = v => 156 + (10 - v) * 9.4;
  const g = mk('g', svg, {});
  
  
  const frame = mk('rect', g, {x: X0, y: Y0, width: X1 - X0, height: Y1 - Y0, fill: 'none', stroke: '#777', 'stroke-width': 1.2});
  
  
  fig1XTickExp.forEach(e => {
    const x = fx(e);
    mk('line', g, {x1: x, y1: Y1, x2: x, y2: Y1 - 5, stroke: '#555'});
    mk('line', g, {x1: x, y1: Y0, x2: x, y2: Y0 + 5, stroke: '#555'});
    for (let m = 2; m < 10; m++) {
      const xm = fx(e + Math.log10(m));
      if (xm < X1) { mk('line', g, {x1: xm, y1: Y1, x2: xm, y2: Y1 - 2.5, stroke: '#777'}); mk('line', g, {x1: xm, y1: Y0, x2: xm, y2: Y0 + 2.5, stroke: '#777'}); }
    }
    const lab = powLabel(g, x, Y1 + 13, e, 'middle', 11);
    
    
  });
  fig1YTickExp.forEach(e => {
    const y = fy(e);
    mk('line', g, {x1: X0, y1: y, x2: X0 + 5, y2: y, stroke: '#555'});
    mk('line', g, {x1: X1, y1: y, x2: X1 - 5, y2: y, stroke: '#555'});
    let lab;
    if (e === 0) {
      lab = mk('text', g, {x: X0 - 5, y: y + 4, 'text-anchor': 'end', 'font-size': 11, 'font-family': 'Liberation Serif, serif', fill: '#222'});
      lab.textContent = '1';
    } else {
      lab = powLabel(g, X0 - 3, y + 4, e, 'end', 11);
    }
    
    
  });
  const xt = mk('text', g, {x: (X0 + X1) / 2, y: 393, 'text-anchor': 'middle', 'font-size': 14, 'font-family': 'Liberation Serif, serif', fill: '#222'});
  xt.textContent = 'Radius [cm]';
  
  
  const yt = mk('text', g, {x: 0, y: 0, 'text-anchor': 'middle', 'font-size': 13, 'font-weight': 'bold', 'font-family': 'Liberation Serif, serif', fill: '#222', transform: 'translate(452,260) rotate(-90)'});
  yt.textContent = 'Density [g cm⁻³]';
  
  
  const red = mk('path', g, {d: pathD(fig1LogR_12TH, fig1LogRho_12TH, fx, fy), fill: 'none', stroke: '#d01010', 'stroke-width': 1.4, 'stroke-dasharray': '5 2 1.5 2'});
  
  
  const blk = mk('path', g, {d: pathD(fig1LogR_E25, fig1LogRho_E25, fx, fy), fill: 'none', stroke: '#111', 'stroke-width': 1.6});
  
  
  const l1 = mk('text', g, {x: 715, y: 167, 'text-anchor': 'end', 'font-size': 11, 'font-family': 'Liberation Serif, serif', fill: '#222'});
  l1.textContent = 'M_star = 5.45 M⊙';
  
  
  mk('line', g, {x1: 720, y1: 163, x2: 750, y2: 163, stroke: '#111', 'stroke-width': 1.6});
  const l2 = mk('text', g, {x: 715, y: 178, 'text-anchor': 'end', 'font-size': 11, 'font-family': 'Liberation Serif, serif', fill: '#222'});
  l2.textContent = 'M_star = 9.23 M⊙';
  
  
  mk('line', g, {x1: 720, y1: 174, x2: 750, y2: 174, stroke: '#d01010', 'stroke-width': 1.4, 'stroke-dasharray': '5 2 1.5 2'});
})();

const seriesStyles = [
  {stroke: '#000', w: 2.2, dash: ''},
  {stroke: '#111', w: 1.6, dash: '1.5 1.5'},
  {stroke: '#222', w: 1.4, dash: '3 1.5'},
  {stroke: '#444', w: 1.3, dash: '3 3'},
  {stroke: '#777', w: 1.3, dash: '6 2 1.5 2'},
  {stroke: '#bbb', w: 1.6, dash: ''}
];

// ===== Figure 4 =====
(function () {
  const svg = document.getElementById('fig45');
  const X0 = 107, X1 = 382, Y0 = 152, Y1 = 347;
  const fx = t => X0 + Math.log10(t) * 74.3;
  const fy = v => Y1 - v * 162.5;
  const g = mk('g', svg, {});
  
  
  mk('rect', g, {x: X0, y: Y0, width: X1 - X0, height: Y1 - Y0, fill: 'none', stroke: '#333', 'stroke-width': 1});
  fig4YTicks.forEach(v => {
    const y = fy(v);
    mk('line', g, {x1: X0, y1: y, x2: X0 + 5, y2: y, stroke: '#333'});
    mk('line', g, {x1: X1, y1: y, x2: X1 - 5, y2: y, stroke: '#333'});
    const t = mk('text', g, {x: X0 - 6, y: y + 3.5, 'text-anchor': 'end', 'font-size': 9, 'font-family': 'Liberation Sans, sans-serif', fill: '#222'});
    t.textContent = String(v);
    
    
  });
  fig4XTicks.forEach(tv => {
    const x = fx(tv);
    mk('line', g, {x1: x, y1: Y1, x2: x, y2: Y1 - 5, stroke: '#333'});
    mk('line', g, {x1: x, y1: Y0, x2: x, y2: Y0 + 5, stroke: '#333'});
    for (let m = 2; m < 10; m++) {
      const xm = fx(tv * m);
      if (xm < X1) { mk('line', g, {x1: xm, y1: Y1, x2: xm, y2: Y1 - 2.5, stroke: '#555'}); mk('line', g, {x1: xm, y1: Y0, x2: xm, y2: Y0 + 2.5, stroke: '#555'}); }
    }
    const t = mk('text', g, {x: x, y: Y1 + 13, 'text-anchor': 'middle', 'font-size': 9, 'font-family': 'Liberation Sans, sans-serif', fill: '#222'});
    t.textContent = String(tv);
    
    
  });
  const xt = mk('text', g, {x: 244, y: 376, 'text-anchor': 'middle', 'font-size': 12, 'font-family': 'Liberation Sans, sans-serif', fill: '#222'});
  xt.textContent = 't [s]';
  
  
  const yt = mk('text', g, {x: 0, y: 0, 'text-anchor': 'middle', 'font-size': 10, 'font-family': 'Liberation Sans, sans-serif', fill: '#222', transform: 'translate(80,250) rotate(-90)'});
  yt.textContent = 'R/ct';
  
  
  const ts = [fig4T_0_15, fig4T_15_30, fig4T_30_45, fig4T_45_60, fig4T_60_75, fig4T_75_90];
  const vs = [fig4V_0_15, fig4V_15_30, fig4V_30_45, fig4V_45_60, fig4V_60_75, fig4V_75_90];
  for (let i = 5; i >= 0; i--) {
    const s = seriesStyles[i];
    const p = mk('path', g, {d: pathD(ts[i], vs[i], fx, fy), fill: 'none', stroke: s.stroke, 'stroke-width': s.w, 'stroke-dasharray': s.dash});
    
    
  }
  legendLabels.forEach((lab, i) => {
    const y = 293 + i * 9.2;
    const t = mk('text', g, {x: 340, y: y + 3, 'text-anchor': 'end', 'font-size': 8, 'font-family': 'Liberation Sans, sans-serif', fill: '#222'});
    t.textContent = lab;
    
    
    const s = seriesStyles[i];
    mk('line', g, {x1: 344, y1: y, x2: 371, y2: y, stroke: s.stroke, 'stroke-width': s.w, 'stroke-dasharray': s.dash});
  });
})();

// ===== Figure 5 =====
(function () {
  const svg = document.getElementById('fig45');
  const X0 = 110, X1 = 380, Y0 = 538, Y1 = 737;
  const fx = t => X0 + Math.log10(t) * 67.5;
  const fy = v => Y1 - (v - 47) * 39.8;
  const g = mk('g', svg, {});
  
  
  mk('rect', g, {x: X0, y: Y0, width: X1 - X0, height: Y1 - Y0, fill: 'none', stroke: '#333', 'stroke-width': 1});
  fig5YTickExp.forEach(e => {
    const y = fy(e);
    mk('line', g, {x1: X0, y1: y, x2: X0 + 5, y2: y, stroke: '#333'});
    mk('line', g, {x1: X1, y1: y, x2: X1 - 5, y2: y, stroke: '#333'});
    for (let m = 2; m < 10; m++) {
      const ym = fy(e + Math.log10(m));
      if (ym > Y0) { mk('line', g, {x1: X0, y1: ym, x2: X0 + 2.5, y2: ym, stroke: '#555'}); mk('line', g, {x1: X1, y1: ym, x2: X1 - 2.5, y2: ym, stroke: '#555'}); }
    }
    const t = powLabel(g, X0 - 3, y + 3, e, 'end', 9);
    
    
  });
  fig5XTicks.forEach(tv => {
    const x = fx(tv);
    mk('line', g, {x1: x, y1: Y1, x2: x, y2: Y1 - 5, stroke: '#333'});
    mk('line', g, {x1: x, y1: Y0, x2: x, y2: Y0 + 5, stroke: '#333'});
    for (let m = 2; m < 10; m++) {
      const xm = fx(tv * m);
      if (xm < X1) { mk('line', g, {x1: xm, y1: Y1, x2: xm, y2: Y1 - 2.5, stroke: '#555'}); mk('line', g, {x1: xm, y1: Y0, x2: xm, y2: Y0 + 2.5, stroke: '#555'}); }
    }
    const t = mk('text', g, {x: x, y: Y1 + 13, 'text-anchor': 'middle', 'font-size': 9, 'font-family': 'Liberation Sans, sans-serif', fill: '#222'});
    t.textContent = String(tv);
    
    
  });
  const xt = mk('text', g, {x: 245, y: 767, 'text-anchor': 'middle', 'font-size': 12, 'font-family': 'Liberation Sans, sans-serif', fill: '#222'});
  xt.textContent = 't [s]';
  
  
  const yt = mk('text', g, {x: 0, y: 0, 'text-anchor': 'middle', 'font-size': 10, 'font-weight': 'bold', 'font-family': 'Liberation Sans, sans-serif', fill: '#222', transform: 'translate(80,637) rotate(-90)'});
  yt.textContent = 'E [erg]';
  
  
  const ts = [fig5T_0_15, fig5T_15_30, fig5T_30_45, fig5T_45_60, fig5T_60_75, fig5T_75_90];
  const es = [fig5E_0_15, fig5E_15_30, fig5E_30_45, fig5E_45_60, fig5E_60_75, fig5E_75_90];
  for (let i = 5; i >= 0; i--) {
    const s = seriesStyles[i];
    const p = mk('path', g, {d: pathD(ts[i], es[i], fx, fy), fill: 'none', stroke: s.stroke, 'stroke-width': s.w, 'stroke-dasharray': s.dash});
    
    
  }
  legendLabels.forEach((lab, i) => {
    const y = 684 + i * 8.8;
    const t = mk('text', g, {x: 345, y: y + 3, 'text-anchor': 'end', 'font-size': 8, 'font-family': 'Liberation Sans, sans-serif', fill: '#222'});
    t.textContent = lab;
    
    
    const s = seriesStyles[i];
    mk('line', g, {x1: 349, y1: y, x2: 373, y2: y, stroke: s.stroke, 'stroke-width': s.w, 'stroke-dasharray': s.dash});
  });
})();
</script>
</body></html>
